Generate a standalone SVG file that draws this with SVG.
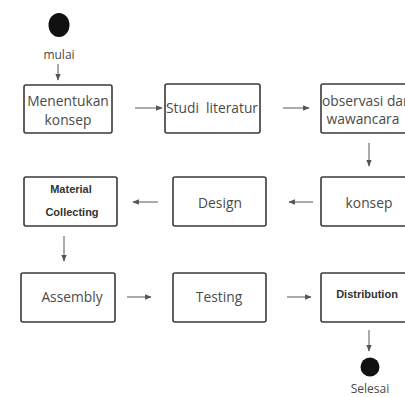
<svg xmlns="http://www.w3.org/2000/svg" width="405" height="397" viewBox="0 0 405 397">
<defs>
<marker id="ah" viewBox="0 0 10 10" refX="9" refY="5" markerWidth="6" markerHeight="6" orient="auto">
<path d="M0,1 L10,5 L0,9 z" fill="#555"/>
</marker>
<style>
.box{fill:#fff;stroke:#3a3a3a;stroke-width:1.6}
.t{font-family:"Open Sans","Noto Sans",sans-serif;font-size:13.8px;fill:#4a4a4a;text-anchor:middle}
.b{font-family:"Liberation Sans",Arial,sans-serif;font-size:11px;font-weight:bold;fill:#333;text-anchor:middle}
.c{stroke:#666;stroke-width:1.1;fill:none;marker-end:url(#ah)}
</style>
</defs>
<rect width="405" height="397" fill="#fff"/>
<g id="start">
<ellipse cx="59" cy="25" rx="10.5" ry="12" fill="#111"/>
<text class="t" x="59" y="59" style="font-size:12px">mulai</text>
</g>
<g id="menentukan">
<rect class="box" x="24" y="85" width="88" height="48" rx="2"/>
<text class="t" x="68" y="106">Menentukan</text>
<text class="t" x="68" y="125">konsep</text>
</g>
<g id="studi">
<rect class="box" x="165" y="84" width="95" height="49" rx="2"/>
<text class="t" x="212" y="113" xml:space="preserve" style="white-space:pre">Studi  literatur</text>
</g>
<g id="observasi">
<rect class="box" x="321" y="84" width="92" height="49" rx="2"/>
<text class="t" x="322" y="106" style="text-anchor:start">observasi dan</text>
<text class="t" x="363" y="124">wawancara</text>
</g>
<g id="konsep">
<rect class="box" x="321" y="177" width="92" height="49" rx="2"/>
<text class="t" x="369" y="208">konsep</text>
</g>
<g id="design">
<rect class="box" x="173" y="177" width="93" height="49" rx="2"/>
<text class="t" x="220" y="208">Design</text>
</g>
<g id="material">
<rect class="box" x="24" y="177" width="93" height="49" rx="2"/>
<text class="b" x="71" y="193">Material</text>
<text class="b" x="72" y="216">Collecting</text>
</g>
<g id="assembly">
<rect class="box" x="21" y="273" width="94" height="49" rx="2"/>
<text class="t" x="72" y="302">Assembly</text>
</g>
<g id="testing">
<rect class="box" x="173" y="273" width="93" height="49" rx="2"/>
<text class="t" x="219" y="302">Testing</text>
</g>
<g id="distribution">
<rect class="box" x="321" y="273" width="92" height="49" rx="2"/>
<text class="b" x="367" y="298">Distribution</text>
</g>
<g id="end">
<circle cx="370" cy="367" r="9.5" fill="#111"/>
<text class="t" x="370" y="393" style="font-size:12px">Selesai</text>
</g>
<g id="connectors">
<line class="c" x1="58" y1="64" x2="58" y2="80"/>
<line class="c" x1="135" y1="108" x2="162" y2="108"/>
<line class="c" x1="283" y1="108" x2="309" y2="108"/>
<line class="c" x1="369" y1="143" x2="369" y2="166"/>
<line class="c" x1="313" y1="202" x2="289" y2="202"/>
<line class="c" x1="158" y1="202" x2="133" y2="202"/>
<line class="c" x1="64" y1="236" x2="64" y2="261"/>
<line class="c" x1="127" y1="297" x2="151" y2="297"/>
<line class="c" x1="287" y1="297" x2="311" y2="297"/>
<line class="c" x1="369" y1="330" x2="369" y2="351"/>
</g>
</svg>
